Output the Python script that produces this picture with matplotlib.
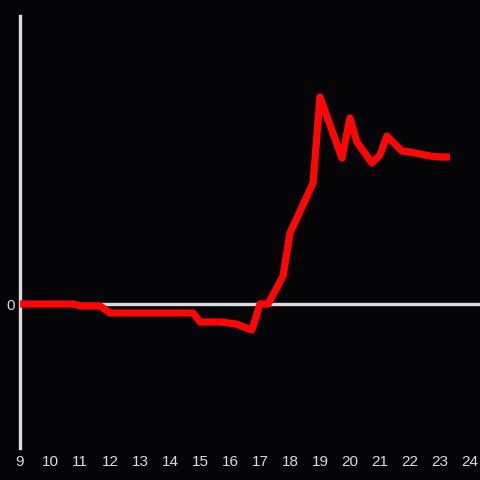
import numpy as np
import matplotlib
matplotlib.use("Agg")
import matplotlib.pyplot as plt

# hours of the day and the value (arbitrary units, 0 = baseline)
hours = [9.0, 10.78, 11.0, 11.67, 12.0, 14.77, 15.0, 15.7, 16.2, 16.73,
         17.0, 17.27, 17.77, 18.0, 18.77, 19.0, 19.73, 20.0, 20.23, 20.73,
         21.0, 21.23, 21.73, 22.0, 22.33, 22.67, 23.0, 23.33]
values = [0, 0, -2, -2, -9, -9, -18, -18, -20, -26,
          0, 0, 28, 71, 121, 207, 146, 186, 162, 141,
          149, 168, 153, 152, 150, 148, 147, 147]
xticks = list(range(9, 25))

BG = "#050407"
AXIS = "#dcdcdc"

plt.rcParams["font.family"] = ["Liberation Sans", "DejaVu Sans"]

fig = plt.figure(figsize=(4.8, 4.8), dpi=100, facecolor=BG)
ax = fig.add_axes([20 / 480, 32 / 480, 460 / 480, 432 / 480], facecolor=BG)

ax.axhline(0, color=AXIS, lw=2.4, zorder=1)
ax.plot(hours, values, color="#ff0606", lw=5.2, solid_joinstyle="round",
        solid_capstyle="butt", zorder=3)

ax.set_xlim(9, 9 + 460 / 30)
ax.set_ylim(-144, 288)
ax.set_xticks(xticks)
ax.set_yticks([0])
ax.tick_params(colors=AXIS, length=0, labelsize=11, pad=5)
ax.tick_params(axis="y", pad=4)
for side in ["top", "right", "bottom"]:
    ax.spines[side].set_visible(False)
ax.spines["left"].set_color(AXIS)
ax.spines["left"].set_linewidth(2.4)

fig.savefig("out.png", dpi=100, facecolor=BG)
